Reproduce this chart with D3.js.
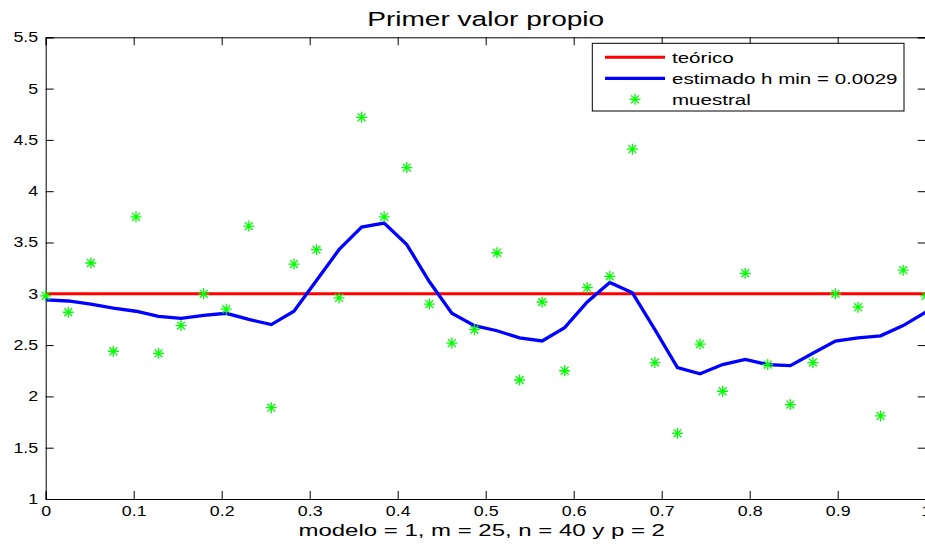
<!DOCTYPE html>
<html>
<head>
<meta charset="utf-8">
<script src="https://cdn.jsdelivr.net/npm/d3@7"></script>
<style>
  html, body { margin: 0; padding: 0; background: #fff; }
  svg { display: block; font-family: "Liberation Sans", Arial, sans-serif; }
</style>
</head>
<body>
<div id="chart"></div>
<script>
// x grid (40 samples on [0,1])
const xs = [0, 0.0256, 0.0513, 0.0769, 0.1026, 0.1282, 0.1538, 0.1795, 0.2051, 0.2308,
            0.2564, 0.2821, 0.3077, 0.3333, 0.3590, 0.3846, 0.4103, 0.4359, 0.4615, 0.4872,
            0.5128, 0.5385, 0.5641, 0.5897, 0.6154, 0.6410, 0.6667, 0.6923, 0.7179, 0.7436,
            0.7692, 0.7949, 0.8205, 0.8462, 0.8718, 0.8974, 0.9231, 0.9487, 0.9744, 1];

const teorico = 3;

const estimado = [2.94, 2.93, 2.90, 2.86, 2.83, 2.78, 2.76, 2.79, 2.81, 2.75,
                  2.70, 2.83, 3.13, 3.43, 3.65, 3.69, 3.48, 3.12, 2.81, 2.69,
                  2.64, 2.57, 2.54, 2.67, 2.92, 3.11, 3.01, 2.65, 2.28, 2.22,
                  2.31, 2.36, 2.31, 2.30, 2.42, 2.54, 2.57, 2.59, 2.69, 2.82];

const muestral = [2.98, 2.82, 3.30, 2.44, 3.75, 2.42, 2.69, 3.00, 2.85, 3.66,
                  1.89, 3.29, 3.43, 2.96, 4.72, 3.75, 4.23, 2.90, 2.52, 2.65,
                  3.40, 2.16, 2.92, 2.25, 3.06, 3.17, 4.41, 2.33, 1.64, 2.51,
                  2.05, 3.20, 2.31, 1.92, 2.33, 3.00, 2.87, 1.81, 3.23, 2.98];

const xTicks = [0, 0.1, 0.2, 0.3, 0.4, 0.5, 0.6, 0.7, 0.8, 0.9, 1];
const yTicks = [1, 1.5, 2, 2.5, 3, 3.5, 4, 4.5, 5, 5.5];

const legendLabels = ["teórico", "estimado h min = 0.0029", "muestral"];

const WIDTH = 925, HEIGHT = 548;
const L = 45.7, R = 925.7, T = 37.3, B = 499;

const svg = d3.select("#chart").append("svg")
    .attr("width", WIDTH)
    .attr("height", HEIGHT);

const x = d3.scaleLinear().domain([0, 1]).range([L, R]);
const y = d3.scaleLinear().domain([1, 5.5]).range([B, T]);

// the reference text is stretched sideways; mimic it with a horizontal scale
function stretchText(sel, sx) {
    sel.each(function() {
        const t = d3.select(this);
        const tx = +t.attr("x") || 0;
        t.attr("x", tx / sx).attr("transform", `scale(${sx},1)`);
    });
}

// axes: MATLAB style inward ticks on all four sides
const tickLen = 8;
const TICK_SX = 1.27;
svg.append("g")
    .attr("transform", `translate(0,${B})`)
    .call(d3.axisBottom(x).tickValues(xTicks).tickSize(-tickLen).tickPadding(4)
            .tickFormat(d => d === 0 ? "0" : d === 1 ? "1" : d3.format(".1f")(d)))
    .call(g => g.select(".domain").attr("stroke", "#000"))
    .call(g => g.selectAll("text").attr("font-size", 14).attr("fill", "#000").attr("dy", null).attr("y", 17.5))
    .call(g => g.selectAll(".tick").each(function() {
        stretchText(d3.select(this).select("text"), TICK_SX);
    }));

svg.append("g")
    .attr("transform", `translate(0,${T})`)
    .call(d3.axisTop(x).tickValues(xTicks).tickSize(-tickLen).tickFormat(""))
    .call(g => g.select(".domain").attr("stroke", "#000"));

svg.append("g")
    .attr("transform", `translate(${L},0)`)
    .call(d3.axisLeft(y).tickValues(yTicks).tickSize(-tickLen).tickPadding(7.5)
            .tickFormat(d => String(d)))
    .call(g => g.select(".domain").attr("stroke", "#000"))
    .call(g => g.selectAll("text").attr("font-size", 14).attr("fill", "#000"))
    .call(g => stretchText(g.selectAll("text"), TICK_SX));

svg.append("g")
    .attr("transform", `translate(${R},0)`)
    .call(d3.axisRight(y).tickValues(yTicks).tickSize(-tickLen).tickFormat(""))
    .call(g => g.select(".domain").attr("stroke", "#000"));

// teórico
svg.append("line")
    .attr("x1", x(0)).attr("x2", x(1))
    .attr("y1", y(teorico)).attr("y2", y(teorico))
    .attr("stroke", "#ff0000")
    .attr("stroke-width", 3);

// estimado
const line = d3.line().x((d, i) => x(xs[i])).y(d => y(d));
svg.append("path")
    .datum(estimado)
    .attr("d", line)
    .attr("fill", "none")
    .attr("stroke", "#0000ff")
    .attr("stroke-width", 3.3)
    .attr("stroke-linejoin", "miter");

// muestral asterisks
function star(g, cx, cy, r) {
    const d = r * 0.72;
    g.append("path")
        .attr("d", `M${cx - r},${cy}H${cx + r}M${cx},${cy - r}V${cy + r}` +
                   `M${cx - d},${cy - d}L${cx + d},${cy + d}M${cx - d},${cy + d}L${cx + d},${cy - d}`)
        .attr("stroke", "#00ff00")
        .attr("stroke-width", 1.3)
        .attr("fill", "none");
}
const pts = svg.append("g");
muestral.forEach((v, i) => star(pts, x(xs[i]), y(v), 5.5));

// title and x label
svg.append("text")
    .attr("x", (L + R) / 2).attr("y", 26)
    .attr("text-anchor", "middle")
    .attr("font-size", 19.5)
    .text("Primer valor propio")
    .call(t => stretchText(t, 1.44));

svg.append("text")
    .attr("x", (L + R) / 2 - 4).attr("y", 536.5)
    .attr("text-anchor", "middle")
    .attr("font-size", 16)
    .text("modelo = 1, m = 25, n = 40 y p = 2")
    .call(t => stretchText(t, 1.5));

// legend
const leg = svg.append("g");
leg.append("rect")
    .attr("x", 592.3).attr("y", 43.3)
    .attr("width", 311.7).attr("height", 67.7)
    .attr("fill", "#fff")
    .attr("stroke", "#000")
    .attr("stroke-width", 1);

const rowY = [57.3, 78.3, 99.3];
leg.append("line")
    .attr("x1", 605).attr("x2", 665).attr("y1", rowY[0]).attr("y2", rowY[0])
    .attr("stroke", "#ff0000").attr("stroke-width", 3);
leg.append("line")
    .attr("x1", 605).attr("x2", 665).attr("y1", rowY[1]).attr("y2", rowY[1])
    .attr("stroke", "#0000ff").attr("stroke-width", 3.3);
star(leg, 635, rowY[2], 5.5);

legendLabels.forEach((t, i) => {
    leg.append("text")
        .attr("x", 672).attr("y", rowY[i] + 5.5)
        .attr("font-size", 15)
        .text(t)
        .call(s => stretchText(s, 1.37));
});
</script>
</body>
</html>
